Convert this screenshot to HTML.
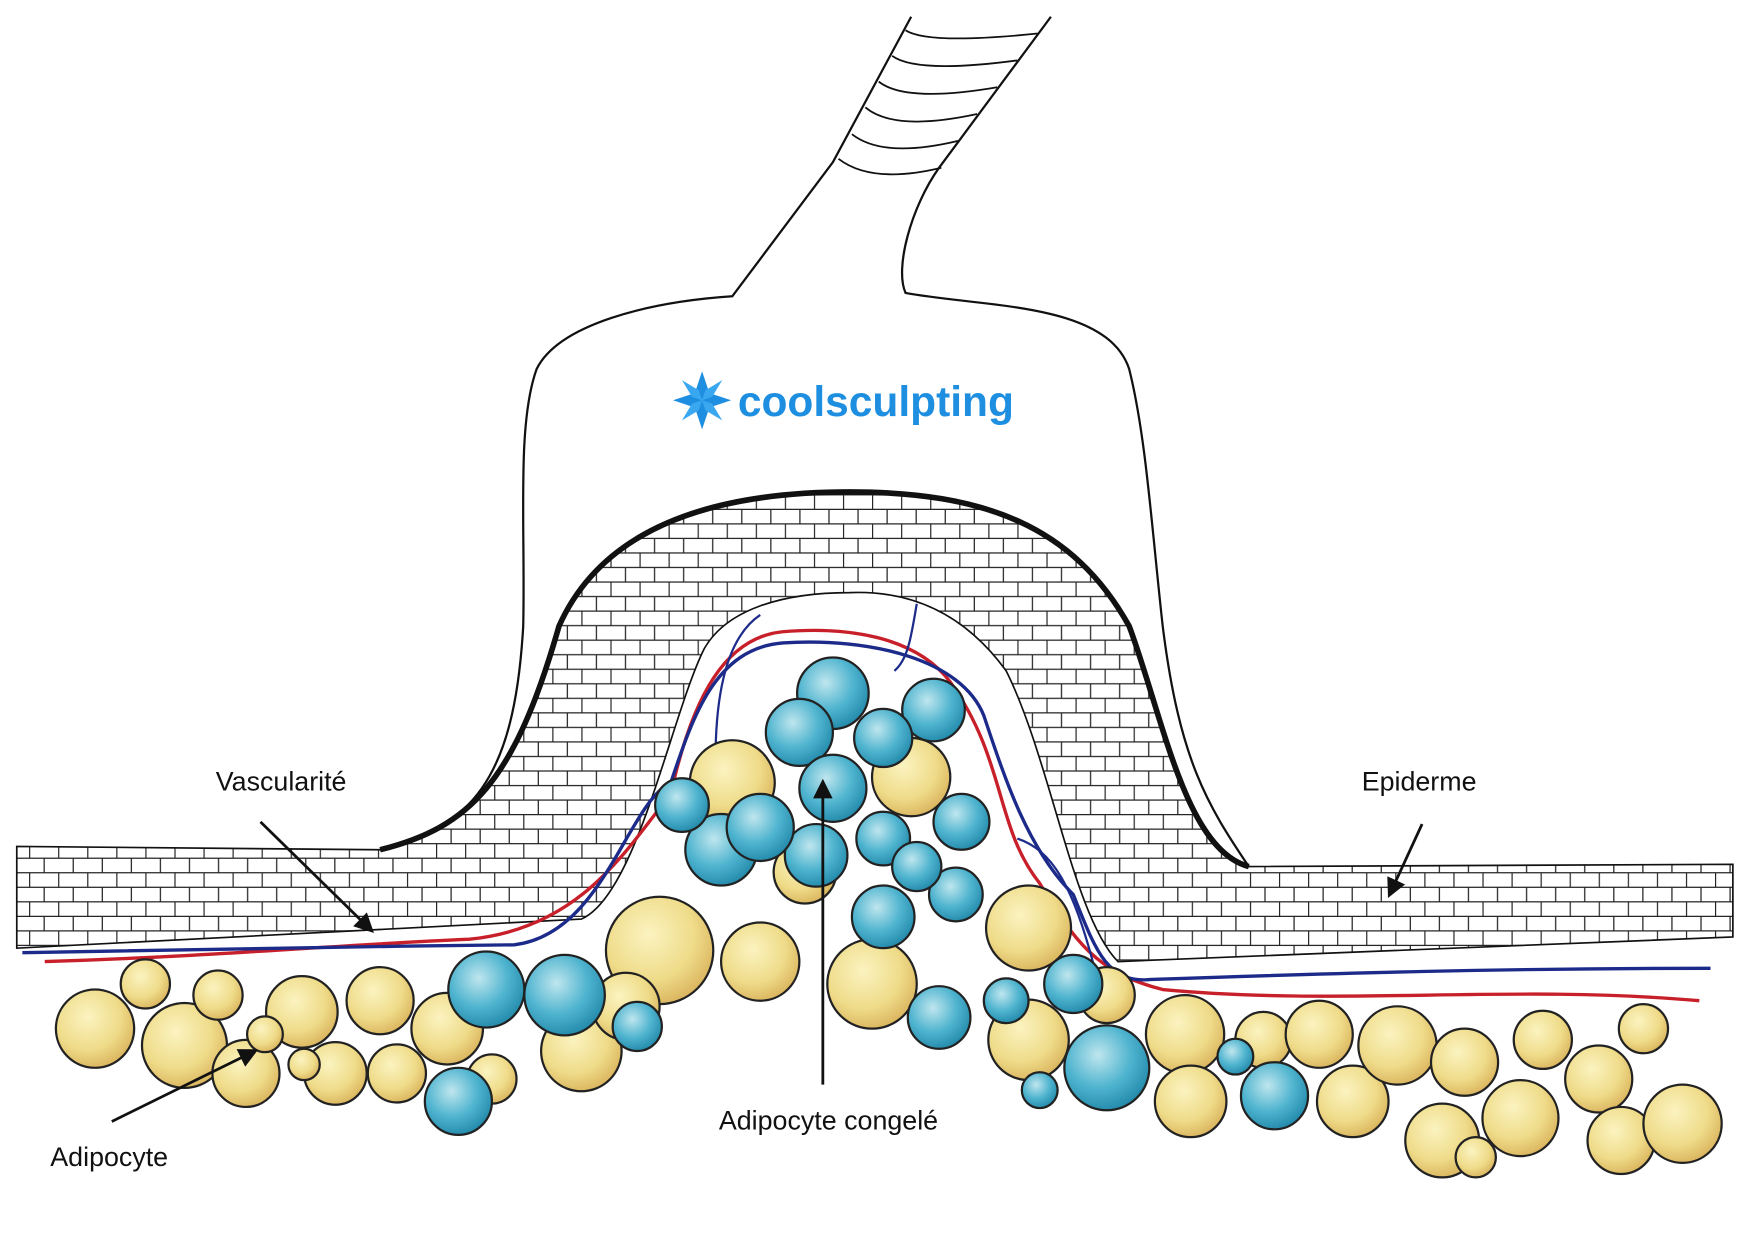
<!DOCTYPE html>
<html><head><meta charset="utf-8"><style>
html,body{margin:0;padding:0;background:#fff;}
svg{display:block;}
text{font-family:"Liberation Sans",sans-serif;}
</style></head><body>
<svg width="1753" height="1240" viewBox="0 0 1568 1109" preserveAspectRatio="none" xmlns="http://www.w3.org/2000/svg">
<defs>
<pattern id="brick" width="26" height="26" patternUnits="userSpaceOnUse">
<rect width="26" height="26" fill="#fff"/>
<path d="M0 0.5H26M0 13.5H26M0.5 0V13M13.5 13V26" stroke="#222" stroke-width="1.1" fill="none"/>
</pattern>
<radialGradient id="yel" cx="0.4" cy="0.35" r="0.7">
<stop offset="0" stop-color="#fbf3c0"/><stop offset="0.6" stop-color="#efdc8a"/><stop offset="1" stop-color="#d9b15a"/>
</radialGradient>
<radialGradient id="blu" cx="0.4" cy="0.35" r="0.7">
<stop offset="0" stop-color="#bfe6ee"/><stop offset="0.55" stop-color="#4fb4cf"/><stop offset="1" stop-color="#1f86a8"/>
</radialGradient>
<marker id="ah" viewBox="0 0 10 10" refX="8" refY="5" markerWidth="7" markerHeight="7" orient="auto"><path d="M0 0L10 5L0 10z" fill="#111"/></marker>
</defs>
<rect width="1568" height="1109" fill="#fff"/>
<!-- applicator -->
<path d="M340 760 C420 740 460 700 468 560 C470 470 462 380 480 330 C500 290 580 270 655 265 L745 145 L815 15" fill="none" stroke="#111" stroke-width="2"/>
<path d="M940 15 L840 150 C815 185 800 240 810 262 C880 275 990 270 1010 330 C1025 390 1030 470 1040 560 C1055 680 1080 720 1117 775" fill="none" stroke="#111" stroke-width="2"/>
<g stroke="#111" stroke-width="1.6" fill="none">
<path d="M810 27 Q830 40 928 30"/><path d="M798 50 Q820 66 910 54"/><path d="M786 73 Q810 92 892 78"/><path d="M774 96 Q800 118 874 102"/><path d="M762 120 Q790 142 857 126"/><path d="M750 142 Q780 165 842 150"/>
</g>
<!-- skin -->
<path d="M15 757 L340 760 C420 740 460 700 500 560 C540 470 640 440 760 440 C880 440 960 470 1010 560 C1040 640 1060 760 1117 775 L1550 773 L1550 838 L1000 860 C960 820 940 680 900 600 C860 545 810 528 760 530 C700 530 650 545 630 580 C600 640 570 800 520 822 L15 848 Z" fill="url(#brick)" stroke="#111" stroke-width="1.5"/>
<path d="M340 760 C420 740 460 700 500 560 C540 470 640 440 760 440 C880 440 960 470 1010 560 C1040 640 1060 760 1117 775" fill="none" stroke="#111" stroke-width="5"/>
<!-- logo -->
<g transform="translate(628,358)" fill="#1e8fe0">
<path d="M0 -26L6 -8L0 0L-6 -8Z"/><path d="M0 26L6 8L0 0L-6 8Z"/><path d="M-26 0L-8 6L0 0L-8 -6Z"/><path d="M26 0L8 6L0 0L8 -6Z"/>
<path d="M-18 -18L-3 -9L0 0L-9 -3Z" fill="#3aa8f0"/><path d="M18 18L3 9L0 0L9 3Z" fill="#3aa8f0"/><path d="M18 -18L9 -3L0 0L3 -9Z" fill="#3aa8f0"/><path d="M-18 18L-9 3L0 0L-3 9Z" fill="#3aa8f0"/>
</g>
<text x="660" y="372" font-size="38" font-weight="bold" fill="#1e8fe0">coolsculpting</text>
<!-- vessels -->
<g fill="none" stroke-width="3">
<path d="M40 860 C200 855 300 845 420 840 C520 830 560 760 600 710 C620 620 650 570 700 565 C760 560 820 570 850 610 C900 680 890 740 930 790 C960 840 980 870 1040 885 C1200 900 1350 880 1520 895" stroke="#c8202a"/>
<path d="M20 852 C200 850 320 846 460 845 C540 835 560 720 600 700 C620 640 640 580 700 575 C780 570 860 590 880 640 C900 700 920 760 960 800 C980 850 990 880 1030 876 C1200 870 1350 866 1530 866" stroke="#1c2a8a"/>
<path d="M640 680 C640 620 650 570 680 550 M820 540 C815 570 812 590 800 600 M910 750 C940 760 960 790 980 870" stroke="#1c2a8a" stroke-width="2"/>
</g>
<!-- cells -->
<g stroke="#222" stroke-width="2">
<g fill="url(#yel)">
<circle cx="85" cy="920" r="35"/><circle cx="130" cy="880" r="22"/><circle cx="165" cy="935" r="38"/><circle cx="220" cy="960" r="30"/><circle cx="195" cy="890" r="22"/><circle cx="270" cy="905" r="32"/><circle cx="300" cy="960" r="28"/><circle cx="340" cy="895" r="30"/><circle cx="355" cy="960" r="26"/><circle cx="400" cy="920" r="32"/><circle cx="440" cy="965" r="22"/><circle cx="520" cy="940" r="36"/><circle cx="590" cy="850" r="48"/><circle cx="655" cy="700" r="38"/><circle cx="815" cy="695" r="35"/><circle cx="680" cy="860" r="35"/><circle cx="780" cy="880" r="40"/><circle cx="920" cy="830" r="38"/><circle cx="920" cy="930" r="36"/><circle cx="990" cy="890" r="25"/><circle cx="1060" cy="925" r="35"/><circle cx="1065" cy="985" r="32"/><circle cx="1130" cy="930" r="25"/><circle cx="1180" cy="925" r="30"/><circle cx="1210" cy="985" r="32"/><circle cx="1250" cy="935" r="35"/><circle cx="1290" cy="1020" r="33"/><circle cx="1310" cy="950" r="30"/><circle cx="1360" cy="1000" r="34"/><circle cx="1380" cy="930" r="26"/><circle cx="1430" cy="965" r="30"/><circle cx="1450" cy="1020" r="30"/><circle cx="1470" cy="920" r="22"/><circle cx="1505" cy="1005" r="35"/><circle cx="1320" cy="1035" r="18"/><circle cx="237" cy="925" r="16"/><circle cx="272" cy="952" r="14"/><circle cx="560" cy="900" r="30"/><circle cx="720" cy="780" r="28"/>
</g>
<g fill="url(#blu)">
<circle cx="745" cy="620" r="32"/><circle cx="715" cy="655" r="30"/><circle cx="835" cy="635" r="28"/><circle cx="745" cy="705" r="30"/><circle cx="790" cy="660" r="26"/><circle cx="645" cy="760" r="32"/><circle cx="730" cy="765" r="28"/><circle cx="790" cy="820" r="28"/><circle cx="855" cy="800" r="24"/><circle cx="860" cy="735" r="25"/><circle cx="790" cy="750" r="24"/><circle cx="435" cy="885" r="34"/><circle cx="505" cy="890" r="36"/><circle cx="570" cy="918" r="22"/><circle cx="410" cy="985" r="30"/><circle cx="840" cy="910" r="28"/><circle cx="900" cy="895" r="20"/><circle cx="960" cy="880" r="26"/><circle cx="990" cy="955" r="38"/><circle cx="930" cy="975" r="16"/><circle cx="1105" cy="945" r="16"/><circle cx="1140" cy="980" r="30"/><circle cx="610" cy="720" r="24"/><circle cx="680" cy="740" r="30"/><circle cx="820" cy="775" r="22"/>
</g>
</g>
<!-- labels -->
<g font-size="24" fill="#111">
<text x="193" y="707">Vascularité</text>
<text x="1218" y="707">Epiderme</text>
<text x="45" y="1043">Adipocyte</text>
<text x="643" y="1010">Adipocyte congelé</text>
</g>
<g stroke="#111" stroke-width="2.5" marker-end="url(#ah)">
<line x1="233" y1="735" x2="332" y2="832"/>
<line x1="1272" y1="737" x2="1243" y2="800"/>
<line x1="100" y1="1003" x2="228" y2="940"/>
<line x1="736" y1="970" x2="736" y2="700"/>
</g>
</svg>
</body></html>
